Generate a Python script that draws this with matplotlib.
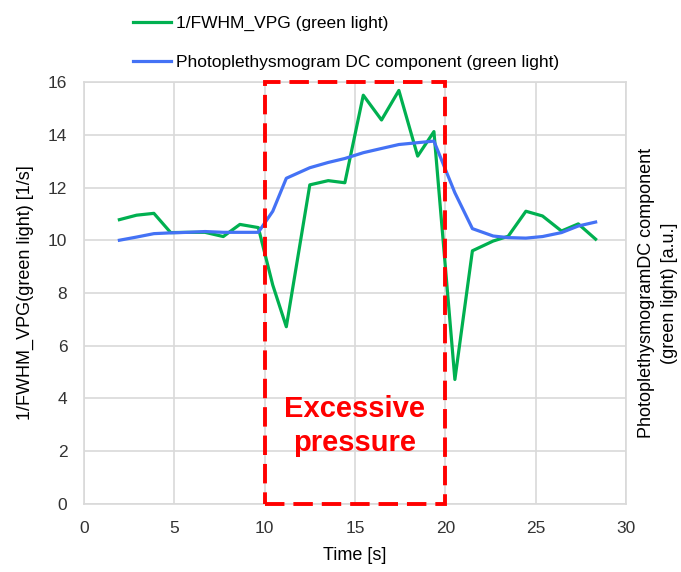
import matplotlib
matplotlib.use("Agg")
import matplotlib.pyplot as plt
from matplotlib.patches import Rectangle

plt.rcParams['font.family'] = ['Liberation Sans', 'DejaVu Sans']

time_s = [1.96, 2.91, 3.87, 4.80, 5.76, 6.70, 7.71, 8.63, 9.65, 10.45, 11.2,
          12.5, 13.52, 14.44, 15.46, 16.47, 17.43, 18.47, 19.37, 20.53, 21.5,
          22.65, 23.48, 24.46, 25.38, 26.43, 27.36, 28.32]
fwhm_vpg = [10.78, 10.95, 11.02, 10.29, 10.3, 10.3, 10.14, 10.6, 10.48, 8.3, 6.72,
            12.1, 12.26, 12.18, 15.5, 14.56, 15.68, 13.19, 14.12, 4.72, 9.6,
            9.97, 10.15, 11.1, 10.92, 10.35, 10.62, 10.04]
ppg_dc = [10.0, 10.12, 10.25, 10.28, 10.3, 10.33, 10.3, 10.3, 10.3, 11.1, 12.35,
          12.75, 12.95, 13.1, 13.32, 13.48, 13.63, 13.7, 13.76, 11.8, 10.44,
          10.16, 10.1, 10.08, 10.14, 10.29, 10.54, 10.69]
pressure_window = [10, 20]

fig = plt.figure(figsize=(6.81, 5.72), dpi=100)
ax = fig.add_axes([0.1233, 0.119, 0.7959, 0.7376])
ax2 = ax.twinx()

green = '#00b050'
blue = '#4472f5'
grid_c = '#d9d9d9'

l1, = ax.plot(time_s, fwhm_vpg, color=green, lw=2.3, label='1/FWHM_VPG (green light)', zorder=3)
l2, = ax2.plot(time_s, ppg_dc, color=blue, lw=2.3, label='Photoplethysmogram DC component (green light)', zorder=3)

ax.set_xlim(0, 30)
ax.set_ylim(0, 16)
ax2.set_ylim(0, 16)
ax.set_xticks([0, 5, 10, 15, 20, 25, 30])
ax.set_yticks(range(0, 17, 2))
ax.grid(True, color=grid_c, lw=1.2)
ax.set_axisbelow(True)
ax.tick_params(length=0, labelsize=12.5, colors='#333333', pad=12)
ax2.set_yticks([])
for s in ax.spines.values():
    s.set_color(grid_c)
    s.set_linewidth(1.2)
for s in ax2.spines.values():
    s.set_visible(False)

ax.set_xlabel('Time [s]', fontsize=13, labelpad=8)
ax.set_ylabel('1/FWHM_VPG(green light) [1/s]', fontsize=13, labelpad=10)
ax2.set_ylabel('PhotoplethysmogramDC component\n(green light) [a.u.]', fontsize=13,
               labelpad=9, linespacing=1.4)

rect = Rectangle((pressure_window[0], 0), pressure_window[1] - pressure_window[0], 16,
                 fill=False, edgecolor='#ff0000', lw=2.8, linestyle=(0, (5, 2.3)),
                 zorder=6, clip_on=False)
ax2.add_patch(rect)
ax2.text(15, 2.95, 'Excessive\npressure', color='#ff0000', fontsize=21, fontweight='bold',
         ha='center', va='center', linespacing=1.25, zorder=5)

fig.legend(handles=[l1, l2], loc='upper left', bbox_to_anchor=(0.172, 1.0),
           frameon=False, fontsize=12.5, labelspacing=1.4, handlelength=2.2,
           handletextpad=0.3)

fig.savefig('out.png', dpi=100)
